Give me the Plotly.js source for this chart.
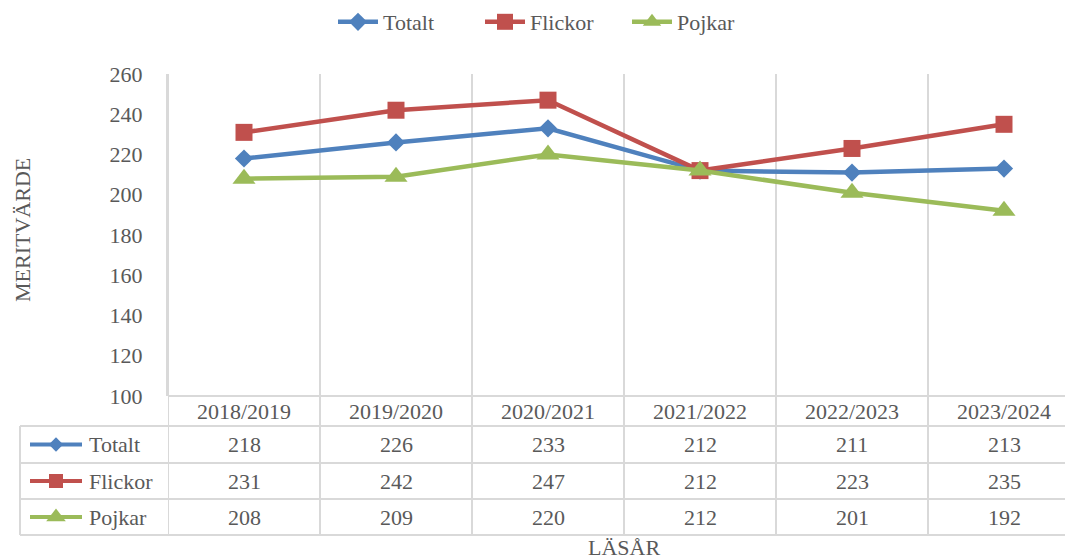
<!DOCTYPE html>
<html>
<head>
<meta charset="utf-8">
<script src="https://cdn.plot.ly/plotly-3.0.1.min.js"></script>
<style>html,body{margin:0;padding:0;background:#fff;}#chart{width:1065px;height:560px;}</style>
</head>
<body>
<div id="chart"></div>
<script>
// ---- data ----
const categories = ["2018/2019", "2019/2020", "2020/2021", "2021/2022", "2022/2023", "2023/2024"];
const totalt  = [218, 226, 233, 212, 211, 213];
const flickor = [231, 242, 247, 212, 223, 235];
const pojkar  = [208, 209, 220, 212, 201, 192];
const seriesNames = ["Totalt", "Flickor", "Pojkar"];
const yTickVals = [100, 120, 140, 160, 180, 200, 220, 240, 260];
const yTitle = "MERITVÄRDE";
const xTitle = "LÄSÅR";

// ---- styling ----
const W = 1065, H = 560;
const FONT = "Liberation Serif";
const FS = 22;
const TXT = "#595959";
const GRID = "#D9D9D9";
const colors = ["#4F81BD", "#C0504D", "#9BBB59"];
const symbols = ["diamond", "square", "triangle-up"];
const msizes = [14, 17, 20];
const seriesValues = [totalt, flickor, pojkar];

const plotL = 168, plotT = 74, plotB = 396;
const colW = 152;
const rowLines = [396, 426, 463, 499, 535];
const tableLeft = 20;
const py = v => (H - v) / H;
const px = v => v / W;

const traces = seriesValues.map((vals, i) => ({
  type: "scatter", mode: "lines+markers",
  name: seriesNames[i],
  x: categories, y: vals,
  line: {color: colors[i], width: 4.5},
  marker: {symbol: symbols[i], size: msizes[i], color: colors[i]},
  cliponaxis: false
}));

// legend keys inside data table (helper pixel axes)
const rowCenters = [];
for (let r = 0; r < 3; r++) rowCenters.push((rowLines[r + 1] + rowLines[r + 2]) / 2);
seriesNames.forEach((nm, i) => {
  traces.push({
    type: "scatter", mode: "lines", xaxis: "x2", yaxis: "y2", showlegend: false, hoverinfo: "skip",
    x: [30, 82], y: [rowCenters[i], rowCenters[i]],
    line: {color: colors[i], width: 4}
  });
  traces.push({
    type: "scatter", mode: "markers", xaxis: "x2", yaxis: "y2", showlegend: false, hoverinfo: "skip",
    x: [56], y: [rowCenters[i]],
    marker: {symbol: symbols[i], size: [11, 14, 17][i], color: colors[i]}
  });
});

const shapes = [];
rowLines.forEach((yv, k) => {
  shapes.push({type: "line", xref: "paper", yref: "paper", layer: "below",
    x0: px(k === 0 ? plotL : tableLeft), x1: 1, y0: py(yv), y1: py(yv),
    line: {color: GRID, width: 2}});
});
for (let c = 0; c <= categories.length; c++) {
  shapes.push({type: "line", xref: "x", yref: "paper", layer: "below",
    x0: c - 0.5, x1: c - 0.5, y0: py(rowLines[4]), y1: py(plotT),
    line: {color: GRID, width: 2}});
}
shapes.push({type: "line", xref: "paper", yref: "paper", layer: "below",
  x0: px(tableLeft), x1: px(tableLeft), y0: py(rowLines[4]), y1: py(rowLines[1]),
  line: {color: GRID, width: 2}});

const annotations = [];
seriesValues.forEach((vals, r) => {
  annotations.push({xref: "paper", yref: "paper", x: px(87), y: py(rowCenters[r]),
    xanchor: "left", yanchor: "middle", text: seriesNames[r], showarrow: false,
    font: {family: FONT, size: FS, color: TXT}});
  vals.forEach((v, c) => {
    annotations.push({xref: "x", yref: "paper", x: categories[c], y: py(rowCenters[r]),
      xanchor: "center", yanchor: "middle", text: String(v), showarrow: false,
      font: {family: FONT, size: FS, color: TXT}});
  });
});
categories.forEach(cat => {
  annotations.push({xref: "x", yref: "paper", x: cat, y: py((rowLines[0] + rowLines[1]) / 2),
    xanchor: "center", yanchor: "middle", text: cat, showarrow: false,
    font: {family: FONT, size: FS, color: TXT}});
});
annotations.push({xref: "paper", yref: "paper", x: px(22), y: py(230), textangle: -90,
  xanchor: "center", yanchor: "middle", text: yTitle, showarrow: false,
  font: {family: FONT, size: FS, color: TXT}});
annotations.push({xref: "paper", yref: "paper", x: px(624), y: py(547),
  xanchor: "center", yanchor: "middle", text: xTitle, showarrow: false,
  font: {family: FONT, size: FS, color: TXT}});

const layout = {
  width: W, height: H,
  margin: {l: 0, r: 0, t: 0, b: 0, pad: 0},
  paper_bgcolor: "#fff", plot_bgcolor: "rgba(0,0,0,0)",
  font: {family: FONT, size: FS, color: TXT},
  showlegend: true,
  legend: {orientation: "h", x: px(333), xanchor: "left", y: py(1), yanchor: "top",
    font: {family: FONT, size: FS, color: TXT}, entrywidth: 92, entrywidthmode: "pixels",
    itemwidth: 40, tracegroupgap: 0, bgcolor: "rgba(0,0,0,0)"},
  xaxis: {
    type: "category", domain: [px(plotL), 1],
    range: [-0.5, -0.5 + (W - plotL) / colW],
    tickson: "boundaries", showgrid: true, gridcolor: GRID, gridwidth: 2,
    showticklabels: false, ticks: "", zeroline: false, showline: false, fixedrange: true
  },
  yaxis: {
    domain: [py(plotB), py(plotT)], range: [100, 260],
    tickvals: yTickVals, ticktext: yTickVals.map(String),
    showgrid: false, zeroline: false, showline: true, linecolor: GRID, linewidth: 2,
    ticks: "", ticklabelstandoff: 19,
    tickfont: {family: FONT, size: FS, color: TXT}, fixedrange: true
  },
  xaxis2: {domain: [0, 1], range: [0, W], visible: false, fixedrange: true, anchor: "y2"},
  yaxis2: {domain: [0, 1], range: [H, 0], visible: false, fixedrange: true, anchor: "x2"},
  shapes: shapes,
  annotations: annotations
};

Plotly.newPlot("chart", traces, layout, {displayModeBar: false, staticPlot: true});
</script>
</body>
</html>
